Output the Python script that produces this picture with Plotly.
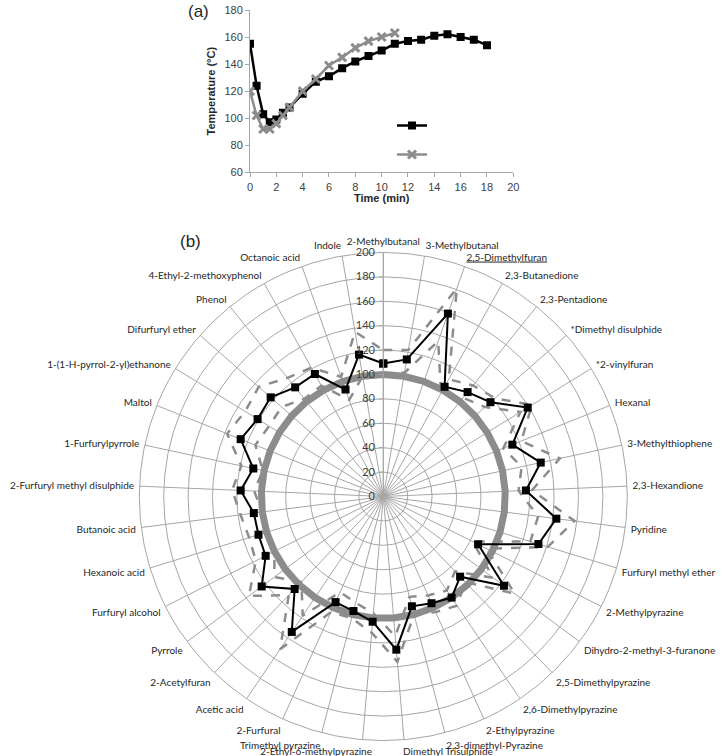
import plotly.graph_objects as go

# ---- (a) temperature profile --------------------------------------------------
time_black = [0, 0.5, 1, 1.5, 2, 2.5, 3, 4, 5, 6, 7, 8, 9, 10, 11, 12, 13, 14, 15, 16, 17, 18]
temp_black = [155, 124, 103, 97, 99, 104, 108, 118, 127, 131, 137, 142, 146, 150, 155, 157, 158, 161, 162, 160, 158, 154]

time_grey = [0, 0.5, 1, 1.5, 2, 2.5, 3, 4, 5, 6, 7, 8, 9, 10, 11]
temp_grey = [120, 102, 92, 92, 96, 102, 108, 120, 129, 139, 145, 152, 157, 160, 163]

# ---- (b) radar ---------------------------------------------------------------
compounds = [
    '2-Methylbutanal', '3-Methylbutanal', '2,5-Dimethylfuran', '2,3-Butanedione',
    '2,3-Pentadione', '*Dimethyl disulphide', '*2-vinylfuran', 'Hexanal',
    '3-Methylthiophene', '2,3-Hexandione', 'Pyridine', 'Furfuryl methyl ether',
    '2-Methylpyrazine', 'Dihydro-2-methyl-3-furanone', '2,5-Dimethylpyrazine',
    '2,6-Dimethylpyrazine', '2-Ethylpyrazine', '2,3-dimethyl-Pyrazine',
    'Dimethyl Trisulphide', '2-Ethyl-6-methylpyrazine', 'Trimethyl pyrazine',
    '2-Furfural', 'Acetic acid', '2-Acetylfuran', 'Pyrrole', 'Furfuryl alcohol',
    'Hexanoic acid', 'Butanoic acid', '2-Furfuryl methyl disulphide',
    '1-Furfurylpyrrole', 'Maltol', '1-(1-H-pyrrol-2-yl)ethanone', 'Difurfuryl ether',
    'Phenol', '4-Ethyl-2-methoxyphenol', 'Octanoic acid', 'Indole',
]

ratio_mean = [109, 114, 159, 103, 110, 117, 139, 114, 132, 117, 143, 133, 87, 123, 91, 100,
              96, 93, 126, 103, 97, 95, 134, 105, 124, 108, 107, 107, 117, 109, 126, 121,
              123, 115, 115, 93, 118]
ratio_upper = [120, 122, 181, 110, 117, 122, 143, 122, 148, 122, 158, 141, 95, 134, 97, 108,
               104, 100, 136, 112, 103, 104, 151, 112, 137, 117, 115, 118, 124, 119, 138, 133,
               136, 125, 121, 104, 137]
ratio_lower = [101, 103, 135, 97, 104, 111, 132, 106, 116, 111, 128, 126, 82, 112, 85, 93,
               89, 85, 115, 96, 90, 86, 118, 97, 111, 100, 99, 100, 106, 101, 113, 110,
               111, 103, 104, 84, 100]
reference_level = [100] * len(compounds)

GREY = '#8c8c8c'
GRID = '#a6a6a6'
NBSP = '\u00a0'

W, H = 725, 756


def px(x):
    return x / W


def py(y):
    return 1 - y / H


def closed(values):
    return values + values[:1]


# labels as shown: one underlined, the two bottom ones pushed apart like Excel does
def label(name):
    if name == '2,5-Dimethylfuran':
        return '<u>' + name + '</u>'
    if name == 'Dimethyl Trisulphide':
        return NBSP * 34 + name
    if name == '2-Ethyl-6-methylpyrazine':
        return name + NBSP * 36
    return name


fig = go.Figure()

fig.add_trace(go.Scatter(
    x=time_black, y=temp_black, name='', mode='lines+markers',
    line=dict(color='black', width=2.5),
    marker=dict(symbol='square', size=8, color='black'),
))
fig.add_trace(go.Scatter(
    x=time_grey, y=temp_grey, name='', mode='lines+markers',
    line=dict(color=GREY, width=2.5),
    marker=dict(symbol='x-thin', size=8, color=GREY, line=dict(color=GREY, width=3)),
))

theta = closed(compounds)

fig.add_trace(go.Scatterpolar(
    r=closed(reference_level), theta=theta, mode='lines', showlegend=False,
    line=dict(color=GREY, width=7), subplot='polar',
))
fig.add_trace(go.Scatterpolar(
    r=closed(ratio_upper), theta=theta, mode='lines', showlegend=False,
    line=dict(color=GREY, width=2.5, dash='dash'), subplot='polar',
))
fig.add_trace(go.Scatterpolar(
    r=closed(ratio_lower), theta=theta, mode='lines', showlegend=False,
    line=dict(color=GREY, width=2.5, dash='dash'), subplot='polar',
))
fig.add_trace(go.Scatterpolar(
    r=closed(ratio_mean), theta=theta, mode='lines+markers', showlegend=False,
    line=dict(color='black', width=2),
    marker=dict(symbol='square', size=8, color='black'), subplot='polar',
))

fig.update_layout(
    width=W, height=H, autosize=False,
    margin=dict(l=0, r=0, t=0, b=0, pad=0),
    paper_bgcolor='white', plot_bgcolor='white',
    font=dict(family='Liberation Sans, Arial, sans-serif', size=11, color='#404040'),
    xaxis=dict(
        domain=[px(250), px(513.3)], range=[0, 20], dtick=2, automargin=False,
        showgrid=False, zeroline=False, showline=True, linecolor='#a6a6a6', linewidth=1,
        ticks='outside', ticklen=4, tickcolor='#a6a6a6',
        title=dict(text='<b>Time (min)</b>', standoff=2, font=dict(size=11, color='#262626')),
    ),
    yaxis=dict(
        domain=[py(172.3), py(10)], range=[60, 180], dtick=20, automargin=False,
        ticklabeloverflow='allow',
        showgrid=False, zeroline=False, showline=True, linecolor='#a6a6a6', linewidth=1,
        ticks='outside', ticklen=4, tickcolor='#a6a6a6',
        title=dict(text='<b>Temperature (°C)</b>', standoff=6, font=dict(size=11, color='#262626')),
    ),
    legend=dict(x=px(392), y=py(106), xanchor='left', yanchor='top',
                bgcolor='rgba(0,0,0,0)', font=dict(size=20)),
    polar=dict(
        domain=dict(x=[px(139.3), px(627.3)], y=[py(740.5), py(252.5)]),
        bgcolor='white',
        angularaxis=dict(
            direction='clockwise', rotation=90, type='category',
            tickmode='array', tickvals=compounds, ticktext=[label(c) for c in compounds],
            showline=True, linecolor=GRID, linewidth=1,
            gridcolor=GRID, gridwidth=1,
            ticks='outside', ticklen=3, tickcolor='rgba(0,0,0,0)',
            tickfont=dict(family='Lato, sans-serif', size=10, color='#262626'),
        ),
        radialaxis=dict(
            range=[0, 200], dtick=20, angle=90, tickangle=90, side='counterclockwise',
            showline=True, linecolor=GRID, gridcolor=GRID, gridwidth=1,
            ticks='outside', ticklen=4, tickcolor=GRID,
            tickfont=dict(family='Lato, sans-serif', size=11, color='#404040'),
        ),
    ),
    annotations=[
        dict(text='(a)', x=px(198), y=py(12), xref='paper', yref='paper',
             xanchor='center', yanchor='middle',
             showarrow=False, font=dict(size=17, color='#262626')),
        dict(text='(b)', x=px(190), y=py(241), xref='paper', yref='paper',
             xanchor='center', yanchor='middle',
             showarrow=False, font=dict(size=17, color='#262626')),
    ],
)

# the page keeps the browser's default 8px body margin otherwise
fig.write_html('out.html', config={'displayModeBar': False},
               post_script="document.body.style.margin = '0';")
